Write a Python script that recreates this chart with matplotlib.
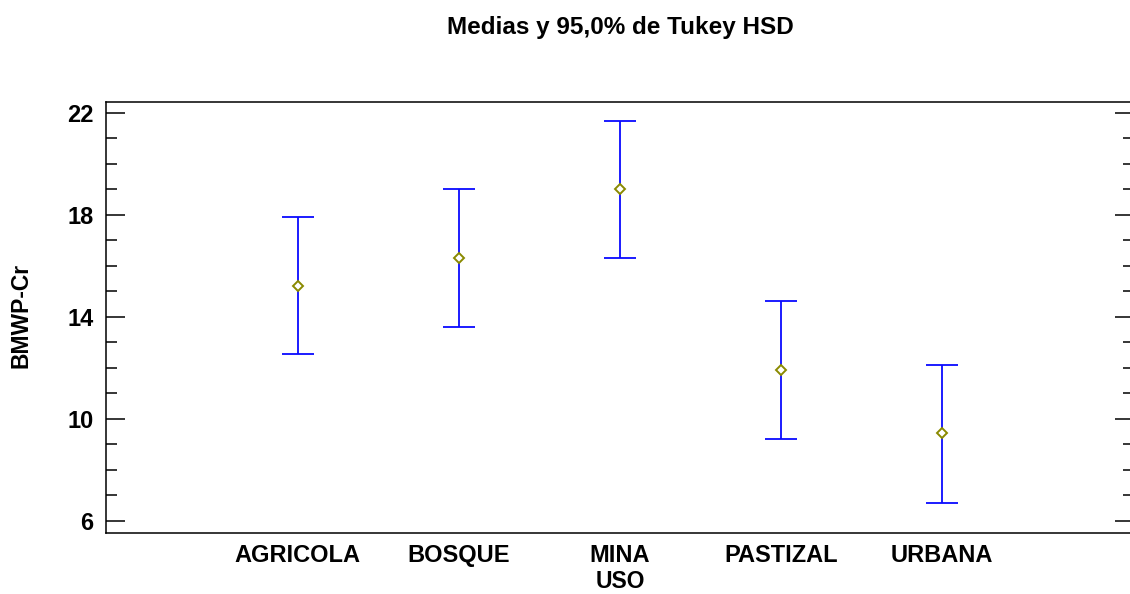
import matplotlib
matplotlib.use("Agg")
import matplotlib.pyplot as plt
from matplotlib.ticker import MultipleLocator

categories = ["AGRICOLA", "BOSQUE", "MINA", "PASTIZAL", "URBANA"]
means = [15.22, 16.29, 19.00, 11.91, 9.43]
lower = [12.53, 13.61, 16.30, 9.20, 6.71]
upper = [17.92, 19.00, 21.69, 14.60, 12.12]
yticks = [6, 10, 14, 18, 22]

plt.rcParams['font.family'] = ['Liberation Sans', 'DejaVu Sans']
plt.rcParams['font.weight'] = 'bold'

W, H = 1130, 594
fig = plt.figure(figsize=(W / 100, H / 100), dpi=100)
ax = fig.add_axes([106 / W, 1 - 533 / H, (1134 - 106) / W, (533 - 102) / H])

x = list(range(1, len(categories) + 1))
yerr = [[m - l for m, l in zip(means, lower)], [u - m for m, u in zip(means, upper)]]
ax.errorbar(x, means, yerr=yerr, fmt='none', ecolor='#0a0aff', elinewidth=1.3,
            capsize=11.7, capthick=1.3, zorder=2)
ax.plot(x, means, linestyle='none', marker='D', markersize=5.6, markerfacecolor='white',
        markeredgecolor='#8a8a00', markeredgewidth=1.4, zorder=3)

ax.set_xlim(1 - 1.19, 5 + 1.19)
ax.set_ylim(5.52, 22.42)
ax.set_xticks(x)
ax.set_xticklabels(categories)
ax.set_yticks(yticks)
ax.yaxis.set_minor_locator(MultipleLocator(1))

for s in ax.spines.values():
    s.set_linewidth(1.1)
ax.tick_params(axis='y', which='major', direction='in', length=13.7, width=1.1,
               left=True, right=True, labelsize=17, pad=9)
ax.tick_params(axis='y', which='minor', direction='in', length=7.7, width=1.1,
               left=True, right=True)
ax.tick_params(axis='x', which='both', length=0, labelsize=17, pad=21)
for lab in ax.get_xticklabels():
    lab.set_verticalalignment('baseline')
for lab in ax.get_xticklabels() + ax.get_yticklabels():
    lab.set_fontweight('bold')

fig.text(620 / W, 1 - 34 / H, "Medias y 95,0% de Tukey HSD", ha='center', va='baseline',
         fontsize=17.5, fontweight='bold')
fig.text(21 / W, 1 - 315 / H, "BMWP-Cr", ha='center', va='center', rotation=90,
         fontsize=16.5, fontweight='bold')
fig.text(620 / W, 1.5 / H, "USO", ha='center', va='bottom',
         fontsize=16.5, fontweight='bold')

fig.savefig("out.png", dpi=100)
